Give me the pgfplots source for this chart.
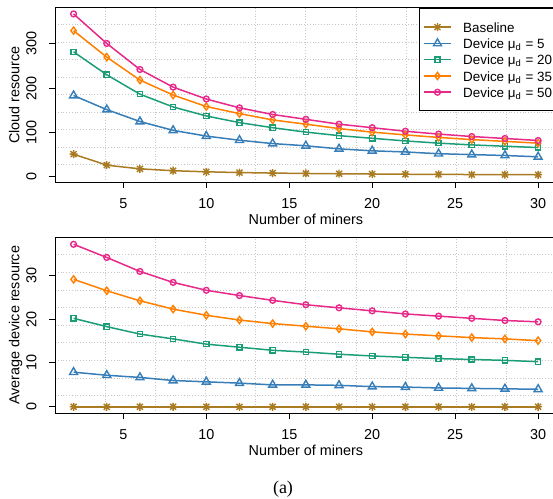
\documentclass[border=0pt]{standalone}
\usepackage{fontspec}
\setmainfont{Liberation Sans}
\newfontfamily\seriffont{Liberation Serif}
\usepackage{pgfplots}
\pgfplotsset{compat=1.18}

\definecolor{cBase}{HTML}{A97B22}
\definecolor{cFive}{HTML}{377EB8}
\definecolor{cTwenty}{HTML}{1B9E77}
\definecolor{cThirtyFive}{HTML}{FF7F00}
\definecolor{cFifty}{HTML}{E7298A}

\pgfdeclareplotmark{rstar}{%
  \pgfpathmoveto{\pgfqpoint{-\pgfplotmarksize}{0pt}}\pgfpathlineto{\pgfqpoint{\pgfplotmarksize}{0pt}}%
  \pgfpathmoveto{\pgfqpoint{0pt}{-\pgfplotmarksize}}\pgfpathlineto{\pgfqpoint{0pt}{\pgfplotmarksize}}%
  \pgfpathmoveto{\pgfqpoint{-0.75\pgfplotmarksize}{-0.75\pgfplotmarksize}}\pgfpathlineto{\pgfqpoint{0.75\pgfplotmarksize}{0.75\pgfplotmarksize}}%
  \pgfpathmoveto{\pgfqpoint{-0.75\pgfplotmarksize}{0.75\pgfplotmarksize}}\pgfpathlineto{\pgfqpoint{0.75\pgfplotmarksize}{-0.75\pgfplotmarksize}}%
  \pgfusepathqstroke}

\pgfplotsset{
  rstyle/.style={
    scale only axis, width=250.85pt,
    xmin=0.88, xmax=31.12,
    xtick={5,10,...,30},
    minor xtick={3.904,6.928,9.952,12.976,16.0,19.024,22.048,25.072,28.096},
    xminorgrids=true, yminorgrids=true,
    minor grid style={densely dotted, black!22, line width=0.5pt},
    minor tick length=0pt,
    tick align=outside, major tick length=3pt,
    tick pos=left,
    major tick style={black, line width=0.5pt},
    axis line style={black, line width=0.5pt},
    /pgf/number format/assume math mode=true,
    font=\fontsize{7.2}{8.6}\selectfont,
    xticklabel style={anchor=base, yshift=-10.3pt, inner sep=0pt},
    yticklabel style={xshift=-6.1pt, rotate=90, anchor=south, inner sep=0pt},
    every axis x label/.style={at={(axis description cs:0.5,0)}, anchor=base, yshift=-21.2pt},
    every axis y label/.style={at={(axis description cs:0,0.5)}, xshift=-17.8pt, rotate=90, anchor=base},
    xlabel={Number of miners},
  },
  sB/.style={color=cBase, line width=0.75pt, mark=rstar, mark size=2pt, mark options={line width=0.7pt}},
  s5/.style={color=cFive, line width=0.75pt, mark=triangle, mark size=2.3pt, mark options={line width=0.7pt}},
  s20/.style={color=cTwenty, line width=0.75pt, mark=square, mark size=1.3pt, mark options={line width=0.7pt}},
  s35/.style={color=cThirtyFive, line width=0.75pt, mark=diamond, mark size=1.8pt, mark options={line width=0.7pt}},
  s50/.style={color=cFifty, line width=0.75pt, mark=o, mark size=1.45pt, mark options={line width=0.7pt}},
}

\begin{document}
\begin{tikzpicture}
\begin{axis}[rstyle,
  at={(27.5pt,-91.15pt)}, anchor=south west,
  height=87.5pt,
  ymin=-13.8, ymax=383,
  ytick={0,100,200,300},
  minor ytick={25.88,65.56,105.24,144.92,184.6,224.28,263.96,303.64,343.32},
  ylabel={Cloud resource},
  legend style={at={(0.726,0.996)}, anchor=north west, draw=black, line width=0.5pt,
    inner xsep=1.85pt, inner ysep=5.3pt, row sep=0pt,
    /tikz/every odd column/.append style={column sep=5.85pt},
    font=\fontsize{6.7}{8}\selectfont,
    nodes={inner sep=0pt, text height=6.6pt, text depth=1.525pt}},
  legend cell align=left,
  legend image code/.code={\draw[mark repeat=2, mark phase=2] plot coordinates {(0pt,0pt) (6.65pt,0pt) (13.3pt,0pt)};},
]
\addplot[sB] coordinates {(2,50) (4,25) (6,16.7) (8,12.5) (10,10) (12,8.3) (14,7.1) (16,6.25) (18,5.6) (20,5) (22,4.5) (24,4.2) (26,3.8) (28,3.6) (30,3.3)};
\addlegendentry{Baseline}
\addplot[s5] coordinates {(2,183) (4,151) (6,124) (8,104) (10,91) (12,81.6) (14,74) (16,69) (18,62) (20,57.6) (22,55) (24,51) (26,49) (28,47) (30,44)};
\addlegendentry{Device μ\textsubscript{d} = 5}
\addplot[s20] coordinates {(2,282) (4,230) (6,186) (8,157) (10,136.6) (12,121.5) (14,110) (16,100) (18,92) (20,86) (22,80) (24,75) (26,71) (28,68) (30,65)};
\addlegendentry{Device μ\textsubscript{d} = 20}
\addplot[s35] coordinates {(2,330) (4,270) (6,218) (8,184) (10,158) (12,142) (14,127.6) (16,118) (18,108) (20,100) (22,93.6) (24,88) (26,83) (28,79) (30,75)};
\addlegendentry{Device μ\textsubscript{d} = 35}
\addplot[s50] coordinates {(2,368) (4,301) (6,242) (8,202) (10,175) (12,155) (14,140) (16,129) (18,118) (20,110) (22,102) (24,95.5) (26,90) (28,85.6) (30,81)};
\addlegendentry{Device μ\textsubscript{d} = 50}
\end{axis}

\begin{axis}[rstyle,
  at={(27.5pt,-206.65pt)}, anchor=south west,
  height=88pt,
  ymin=-1.49, ymax=38.7,
  ytick={0,10,20,30},
  minor ytick={2.53,6.55,10.57,14.59,18.61,22.62,26.64,30.66,34.68},
  ylabel={Average device resource},
]
\addplot[sB] coordinates {(2,0) (4,0) (6,0) (8,0) (10,0) (12,0) (14,0) (16,0) (18,0) (20,0) (22,0) (24,0) (26,0) (28,0) (30,0)};
\addplot[s5] coordinates {(2,7.9) (4,7.2) (6,6.7) (8,6.0) (10,5.7) (12,5.4) (14,5.0) (16,5.0) (18,4.9) (20,4.6) (22,4.5) (24,4.3) (26,4.2) (28,4.1) (30,4.0)};
\addplot[s20] coordinates {(2,20.2) (4,18.3) (6,16.6) (8,15.5) (10,14.3) (12,13.6) (14,12.9) (16,12.5) (18,12.0) (20,11.6) (22,11.3) (24,11.0) (26,10.8) (28,10.6) (30,10.3)};
\addplot[s35] coordinates {(2,29.1) (4,26.5) (6,24.2) (8,22.3) (10,20.9) (12,19.8) (14,19.0) (16,18.4) (18,17.8) (20,17.1) (22,16.6) (24,16.2) (26,15.8) (28,15.5) (30,15.1)};
\addplot[s50] coordinates {(2,37.1) (4,34.1) (6,30.9) (8,28.4) (10,26.6) (12,25.4) (14,24.3) (16,23.3) (18,22.6) (20,21.9) (22,21.2) (24,20.7) (26,20.2) (28,19.7) (30,19.4)};
\end{axis}

\node[font=\seriffont\fontsize{9}{10}\selectfont] at (141.5pt,-244.5pt) {(a)};
\pgfresetboundingbox
\path[use as bounding box] (0pt,0pt) rectangle (276.5pt,-249.5pt);
\end{tikzpicture}
\end{document}
